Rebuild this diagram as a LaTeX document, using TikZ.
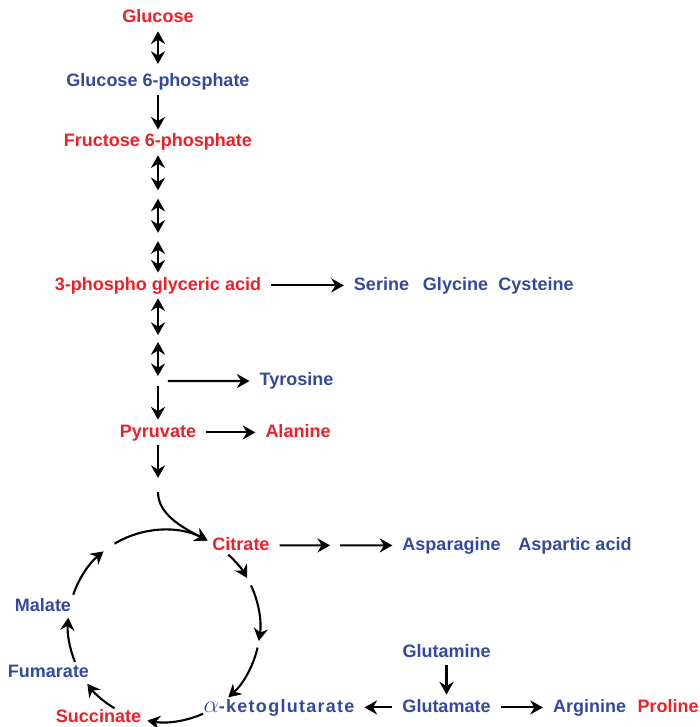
\documentclass[tikz,border=0pt]{standalone}
\usepackage{fontspec}
\setmainfont{Liberation Sans}
\usetikzlibrary{arrows.meta}
\definecolor{metred}{RGB}{236,32,39}
\definecolor{metblue}{RGB}{50,74,158}

\begin{document}
\begin{tikzpicture}[%
    x=0.025cm,y=-0.025cm,%
    >={Stealth[length=9pt,width=10pt,inset=3pt]},%
    cmpd/.style={%
        anchor=base,inner xsep=7pt,inner ysep=3pt,%
        text height=9.2pt,text depth=2.7pt,%
        font=\fontsize{12.8}{15}\selectfont\bfseries%
    },%
    rd/.style={cmpd,text=metred},%
    bl/.style={cmpd,text=metblue},%
    rxn/.style={->,line width=1.5pt},%
    rev/.style={<->,line width=1.5pt},%
]%
    \pgfmathsetmacro{\R}{2.4}
    \useasboundingbox (0,0) rectangle (699,727);

    % glycolysis
    \node[rd] (glc) at (158,23) {Glucose};
    \node[bl] (g6p) at (158,87) {Glucose 6-phosphate};
    \node[rd] (f6p) at (158,147) {Fructose 6-phosphate};
    \node[rd] (pga) at (158,290) {3-phospho glyceric acid};
    \node[rd] (pyr) at (158,437) {Pyruvate};
    \coordinate (s1) at (158,194.5);
    \coordinate (s2) at (158,237);
    \coordinate (s3) at (158,338.5);
    \coordinate (pep) at (158,381);
    \coordinate (acoa) at (158,485);

    % amino acids
    \node[bl] (ser) at (381.5,290) {Serine};
    \node[bl] (gly) at (455.5,290) {Glycine};
    \node[bl] (cys) at (536,290) {Cysteine};
    \node[bl] (tyr) at (296.5,385.6) {Tyrosine};
    \node[rd] (ala) at (298,437) {Alanine};
    \node[bl] (asn) at (451.5,550) {Asparagine};
    \node[bl] (asp) at (575,550) {Aspartic acid};
    \node[bl] (gln) at (446.5,657) {Glutamine};
    \node[bl] (glu) at (446.5,712) {Glutamate};
    \node[bl] (arg) at (589.5,712) {Arginine};
    \node[rd] (pro) at (668,712) {Proline};

    % citric acid cycle
    \coordinate (cyc) at (164,626);
    \coordinate (citin) at ([shift={(63:\R cm)}]cyc);
    \coordinate (oaa) at (335,545.4);
    \node[rd] (cit) at (241,550) {Citrate};
    \node[bl] (akg) at (279,712)
        {{\fontsize{17}{17}\selectfont$\alpha$}\addfontfeature{LetterSpace=7}-ketoglutarate};
    \node[rd] (suc) at (98.5,722) {Succinate};
    \node[bl] (fum) at (48.5,677) {Fumarate};
    \node[bl] (mal) at (43,611) {Malate};

    \draw[rev,shorten >=4pt] (glc) -- (g6p);
    \draw[rxn] (g6p) -- (f6p);
    \draw[rev,shorten >=3pt] (f6p) -- (s1);
    \draw[rev,shorten <=3pt,shorten >=3pt] (s1) -- (s2);
    \draw[rev,shorten <=3pt] (s2) -- (pga);
    \draw[rxn] (pga) -- (ser);
    \draw[rev,shorten >=2.5pt] (pga) -- (s3);
    \draw[rev,shorten <=2.5pt,shorten >=3.5pt] (s3) -- (pep);
    \draw[rxn,shorten <=7pt] (pep) -- (tyr);
    \draw[rxn,shorten <=3.5pt] (pep) -- (pyr);
    \draw[rxn] (pyr) -- (ala);
    \draw[rxn,shorten >=5pt] (pyr) -- (acoa);
    \draw[rxn,shorten <=5pt] (acoa) to[out=-90,in=153] (citin);
    \draw[rxn,shorten >=3.5pt] (cit) -- (oaa);
    \draw[rxn,shorten <=3.5pt] (oaa) -- (asn);
    \draw[rxn] (gln) -- (glu);
    \draw[rxn] (glu) -- (akg);
    \draw[rxn] (glu) -- (arg);

    \foreach \a/\b in {121/63,48/30,25/-9,-13/-48,-66/-100,-121/-143,202/175,161/129}{%
        \draw[rxn] ([shift={(\a:\R cm)}]cyc) arc[start angle=\a,end angle=\b,radius=\R cm];
    }
\end{tikzpicture}
\end{document}
